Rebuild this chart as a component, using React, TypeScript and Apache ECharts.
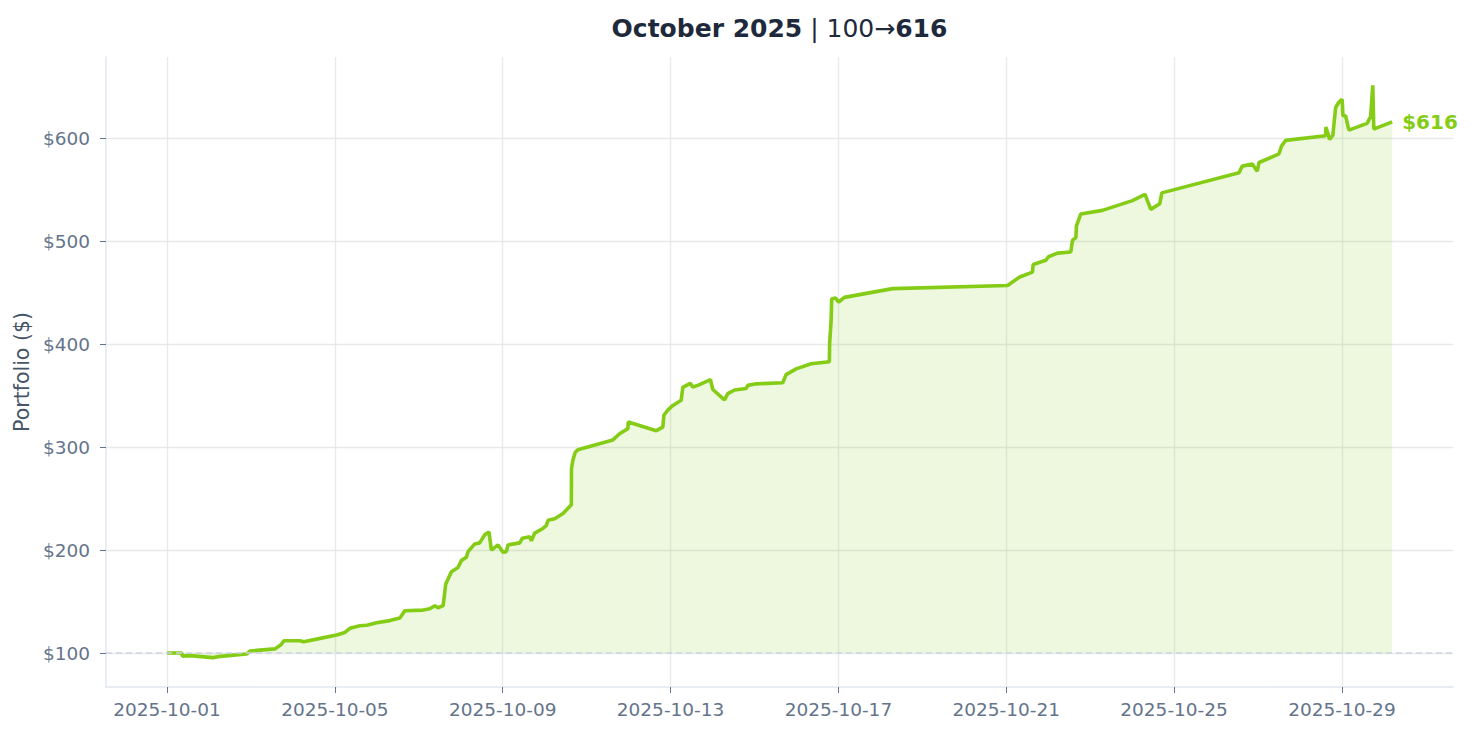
import * as echarts from "echarts"
import { useEffect, useRef } from "react"

// timestamps (UTC) and portfolio values
const TIMES = [
  "2025-10-01T00:00", "2025-10-01T08:20", "2025-10-01T08:50", "2025-10-01T13:00", "2025-10-02T02:15",
  "2025-10-02T05:10", "2025-10-02T21:30", "2025-10-02T23:25", "2025-10-03T13:40", "2025-10-03T17:10",
  "2025-10-03T18:50", "2025-10-04T04:00", "2025-10-04T06:15", "2025-10-04T13:30", "2025-10-05T01:00",
  "2025-10-05T05:45", "2025-10-05T08:35", "2025-10-05T14:15", "2025-10-05T18:15", "2025-10-05T23:50",
  "2025-10-06T07:25", "2025-10-06T13:10", "2025-10-06T16:00", "2025-10-07T02:25", "2025-10-07T06:15",
  "2025-10-07T09:10", "2025-10-07T11:00", "2025-10-07T13:55", "2025-10-07T15:25", "2025-10-07T18:40",
  "2025-10-07T22:25", "2025-10-08T00:25", "2025-10-08T03:15", "2025-10-08T04:10", "2025-10-08T08:00",
  "2025-10-08T10:50", "2025-10-08T13:45", "2025-10-08T16:10", "2025-10-08T17:30", "2025-10-08T21:20",
  "2025-10-09T00:10", "2025-10-09T02:05", "2025-10-09T03:00", "2025-10-09T09:45", "2025-10-09T11:15",
  "2025-10-09T15:25", "2025-10-09T16:25", "2025-10-09T18:15", "2025-10-09T23:00", "2025-10-10T01:00",
  "2025-10-10T01:55", "2025-10-10T05:45", "2025-10-10T10:30", "2025-10-10T15:15", "2025-10-10T15:20",
  "2025-10-10T16:10", "2025-10-10T17:30", "2025-10-10T19:00", "2025-10-11T15:00", "2025-10-11T18:50",
  "2025-10-11T23:35", "2025-10-11T23:50", "2025-10-12T15:50", "2025-10-12T19:35", "2025-10-12T20:10",
  "2025-10-12T22:25", "2025-10-13T01:20", "2025-10-13T06:05", "2025-10-13T07:00", "2025-10-13T11:15",
  "2025-10-13T12:45", "2025-10-13T15:35", "2025-10-13T22:50", "2025-10-14T00:10", "2025-10-14T06:50",
  "2025-10-14T08:45", "2025-10-14T12:35", "2025-10-14T19:15", "2025-10-14T20:10", "2025-10-15T01:00",
  "2025-10-15T16:10", "2025-10-15T18:05", "2025-10-15T23:50", "2025-10-16T08:25", "2025-10-16T18:50",
  "2025-10-16T19:00", "2025-10-16T19:50", "2025-10-16T20:10", "2025-10-16T22:15", "2025-10-17T00:10",
  "2025-10-17T03:25", "2025-10-18T07:00", "2025-10-21T00:45", "2025-10-21T07:25", "2025-10-21T15:00",
  "2025-10-21T15:25", "2025-10-21T22:40", "2025-10-22T00:10", "2025-10-22T05:20", "2025-10-22T12:55",
  "2025-10-22T13:55", "2025-10-22T15:50", "2025-10-22T16:10", "2025-10-22T18:40", "2025-10-23T07:00",
  "2025-10-24T00:10", "2025-10-24T07:25", "2025-10-24T10:40", "2025-10-24T15:50", "2025-10-24T17:00",
  "2025-10-26T13:10", "2025-10-26T15:00", "2025-10-26T20:45", "2025-10-26T23:35", "2025-10-27T00:35",
  "2025-10-27T08:10", "2025-10-27T12:00", "2025-10-27T13:30", "2025-10-27T15:50", "2025-10-28T14:40",
  "2025-10-28T14:50", "2025-10-28T17:00", "2025-10-28T18:50", "2025-10-28T20:25", "2025-10-28T22:15",
  "2025-10-29T00:10", "2025-10-29T00:35", "2025-10-29T02:05", "2025-10-29T04:00", "2025-10-29T14:25",
  "2025-10-29T16:25", "2025-10-29T17:40", "2025-10-29T18:15", "2025-10-30T04:45",
]

const VALUES = [
  100, 100, 97, 97.5, 95.5,
  96.5, 99, 102, 104, 108,
  112, 112, 111, 113.5, 117.5,
  120, 124, 126.5, 127, 129.5,
  131.5, 134, 141, 141.7, 143,
  146, 144, 146, 167, 179,
  183, 190, 193, 198.5, 206,
  207, 215, 217.5, 200, 205,
  198, 198.5, 205, 207, 211.5,
  213, 209, 216.5, 221, 224,
  229, 230.5, 235.5, 244, 279,
  287.5, 295, 297.5, 307, 313,
  318, 324.5, 316, 319.5, 331,
  336, 340.5, 345.5, 358, 362,
  358.5, 360, 365.5, 356, 346,
  352, 355.5, 357, 360, 361.5,
  362.5, 370.5, 376, 381, 383,
  401, 423, 444, 445, 441,
  445.5, 454, 457, 465, 470,
  477.5, 481.5, 485, 488.5, 489.5,
  501, 503.5, 515, 526.5, 530,
  539.5, 545.5, 531, 536.5, 547,
  566.5, 573, 575, 568, 576.5,
  582, 585, 592.5, 598, 602.5,
  611, 599, 603, 630, 635,
  638, 622, 622, 608, 614.5,
  621, 651.5, 609, 616,
]

const X_TICKS = [
  "2025-10-01", "2025-10-05", "2025-10-09", "2025-10-13",
  "2025-10-17", "2025-10-21", "2025-10-25", "2025-10-29",
]
const Y_TICKS = [100, 200, 300, 400, 500, 600]
const START_VALUE = 100
const END_VALUE = 616
const X_RANGE = ["2025-09-29T13:05", "2025-10-31T15:33"]
const Y_RANGE = [67, 679]

const LIME = "#84cc16"
const FONT = "DejaVu Sans"
const GRID = "#e5e7eb"

const toMs = (s: string) => Date.parse((s.length === 10 ? s + "T00:00" : s) + ":00Z")

export default function App(): React.ReactElement {
  const ref = useRef<HTMLDivElement>(null)

  useEffect(() => {
    const node = ref.current
    if (!node) return
    const chart = echarts.init(node, undefined, { renderer: "svg" })

    const data = TIMES.map((t, i) => [toMs(t), VALUES[i]])

    chart.setOption({
      animation: false,
      backgroundColor: "#ffffff",
      textStyle: { fontFamily: FONT },
      grid: { left: 106, right: 22, top: 57, bottom: 49 },
      graphic: [
        {
          type: "text",
          x: 779.5,
          y: 28,
          style: {
            text: `{b|October 2025}{n| | ${START_VALUE}→}{b|${END_VALUE}}`,
            align: "center",
            verticalAlign: "middle",
            rich: {
              b: { fontFamily: FONT, fontSize: 25, fontWeight: "bold", fill: "#1e293b" },
              n: { fontFamily: FONT, fontSize: 25, fontWeight: "normal", fill: "#1e293b" },
            },
          },
        },
      ],
      xAxis: {
        type: "value",
        min: toMs(X_RANGE[0]),
        max: toMs(X_RANGE[1]),
        axisLine: { show: true, lineStyle: { color: "#e2e8f0", width: 1.5 } },
        axisTick: {
          show: true,
          length: 6,
          customValues: X_TICKS.map(toMs),
          lineStyle: { color: "#64748b" },
        },
        axisLabel: {
          customValues: X_TICKS.map(toMs),
          margin: 13,
          fontSize: 18.5,
          fontFamily: FONT,
          color: "#64748b",
          formatter: (v: number) => new Date(v).toISOString().slice(0, 10),
        },
        splitLine: { show: true, lineStyle: { color: GRID, width: 1.3, opacity: 0.9 } },
      },
      yAxis: {
        type: "value",
        min: Y_RANGE[0],
        max: Y_RANGE[1],
        name: "Portfolio ($)",
        nameLocation: "middle",
        nameRotate: 90,
        nameGap: 74,
        nameTextStyle: { fontSize: 20.5, color: "#475569", fontFamily: FONT },
        axisLine: { show: true, lineStyle: { color: "#e2e8f0", width: 1.5 } },
        axisTick: {
          show: true,
          length: 6,
          customValues: Y_TICKS,
          lineStyle: { color: "#64748b" },
        },
        axisLabel: {
          customValues: Y_TICKS,
          margin: 16,
          fontSize: 18.5,
          fontFamily: FONT,
          color: "#64748b",
          formatter: (v: number) => `$${v}`,
        },
        splitLine: { show: true, lineStyle: { color: GRID, width: 1.3, opacity: 0.9 } },
      },
      series: [
        {
          type: "line",
          data,
          showSymbol: false,
          lineStyle: { color: LIME, width: 3.6 },
          areaStyle: { color: LIME, opacity: 0.14, origin: START_VALUE },
          endLabel: {
            show: true,
            formatter: () => `$${END_VALUE}`,
            color: LIME,
            fontWeight: "bold",
            fontSize: 20,
            fontFamily: FONT,
            distance: 10,
          },
          markLine: {
            silent: true,
            symbol: ["none", "none"],
            label: { show: false },
            lineStyle: { color: "#cbd5e1", width: 1.5, type: [6, 4] },
            data: [{ yAxis: START_VALUE }],
          },
        },
      ],
    })

    return () => chart.dispose()
  }, [])

  return (
    <div
      ref={ref}
      style={{ position: "fixed", left: 0, top: 0, width: 1475, height: 736 }}
    />
  )
}
